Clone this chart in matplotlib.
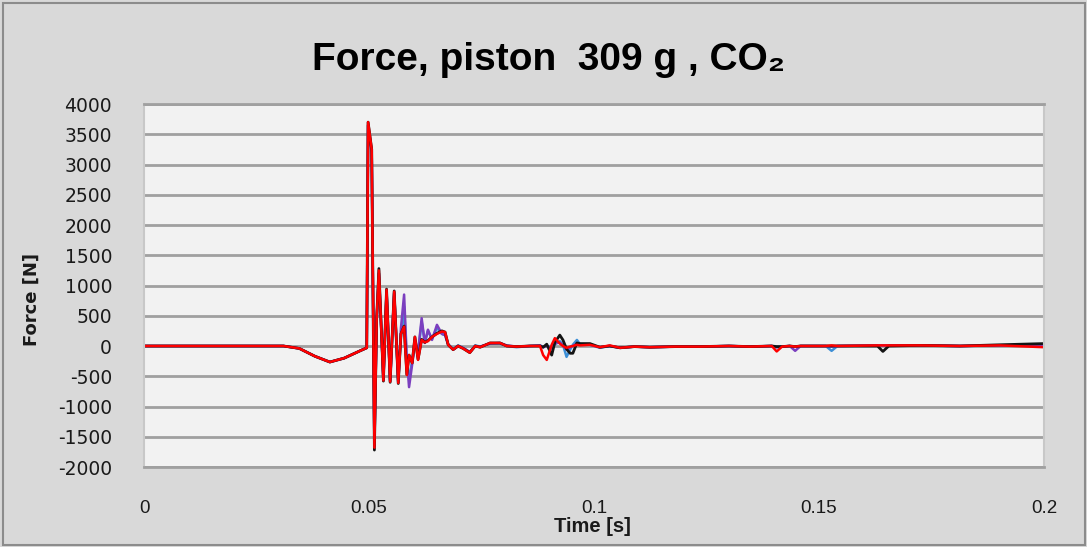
import matplotlib
matplotlib.use("Agg")
import matplotlib.pyplot as plt
from matplotlib.patches import Rectangle

plt.rcParams["axes.unicode_minus"] = False

# ---------------- data ----------------
time_s = [0.0, 0.031, 0.0345, 0.038, 0.0413, 0.0445, 0.048, 0.0495, 0.0498, 0.0506,
          0.0512, 0.0517, 0.0522, 0.0532, 0.0539, 0.0547, 0.0556, 0.0565, 0.0571, 0.0578,
          0.0584, 0.0589, 0.0596, 0.0602, 0.0609, 0.0617, 0.0624, 0.0631, 0.0640, 0.0651,
          0.0662, 0.0669, 0.0676, 0.0687, 0.0698, 0.0709, 0.0724, 0.0736, 0.0747, 0.0769,
          0.0791, 0.0806, 0.0828, 0.0858, 0.0880, 0.0887, 0.0895, 0.0906, 0.0913, 0.0924,
          0.0931, 0.0939, 0.0947, 0.0953, 0.0962, 0.0969,
          0.0991, 0.1013, 0.1035, 0.1058, 0.1090, 0.1124, 0.1180, 0.1236, 0.1300, 0.1347,
          0.1395, 0.1406, 0.1418, 0.1435, 0.1447, 0.1459, 0.1515, 0.1528, 0.1541, 0.1630,
          0.1642, 0.1655, 0.1724, 0.1813, 0.1902, 0.2000]

force_blue = [0, 0, -40, -170, -265, -200, -80, -30, 3650, 3200,
              -1650, 420, 1200, -560, 900, -580, 880, -600, 150, 650,
              -300, -520, -250, 80, -120, 400, 60, 250, 120, 300,
              200, 180, 30, -50, 10, -30, -100, 10, -10, 40,
              40, 0, -20, 0, 10, -20, 10, -50, 30, 80,
              20, -180, -60, 20, 100, 30,
              20, -30, 0, -30, -10, -20, -10, -10, 0, -10,
              0, -20, -10, 0, -10, 0, 0, -80, 0, 10,
              10, 10, 10, 0, 10, 20]

force_purple = [0, 0, -40, -170, -265, -200, -80, -30, 3650, 3200,
                -1650, 420, 1200, -560, 900, -580, 880, -600, 300, 850,
                -200, -680, -300, 50, -100, 460, 50, 270, 100, 350,
                200, 180, 20, -60, 0, -30, -100, 0, -10, 40,
                50, 10, -10, 0, 10, -20, 0, -30, 40, 60,
                10, -60, -20, 0, 40, 20,
                20, -20, 0, -30, -10, -20, -10, -10, 0, -10,
                0, -20, -10, 0, -80, 0, 0, -10, 0, 10,
                10, 10, 10, 0, 10, 20]

force_black = [0, 0, -40, -170, -265, -200, -80, -30, 3700, 3250,
               -1720, 450, 1280, -580, 940, -600, 910, -620, 200, 330,
               -470, -150, -280, 150, -220, 110, 60, 90, 150, 210,
               250, 230, 20, -60, 0, -40, -110, 0, -20, 50,
               50, 0, -10, 0, 0, -20, 30, -150, 60, 180,
               100, -50, -120, -120, 50, 40,
               40, -20, 0, -30, -10, -20, -10, -10, 0, -10,
               0, -10, -10, 0, -10, 0, 0, 0, 0, 0,
               -90, 0, 10, 0, 20, 40]

force_red = [0, 0, -40, -170, -265, -200, -80, -30, 3700, 3250,
             -1680, 450, 1250, -570, 930, -590, 900, -610, 200, 320,
             -480, -150, -280, 150, -230, 100, 60, 80, 150, 200,
             240, 230, 20, -60, 0, -40, -110, 0, -20, 50,
             50, 0, -10, 0, 0, -150, -230, 20, 130, 40,
             0, -30, -10, 0, 20, 10,
             20, -20, 10, -30, -10, -20, -10, -10, 0, -10,
             0, -90, -10, 0, -10, 0, 0, 10, 0, 10,
             10, 10, 10, 0, 10, -20]

y_ticks = [-2000, -1500, -1000, -500, 0, 500, 1000, 1500, 2000, 2500, 3000, 3500, 4000]
x_ticks = [0, 0.05, 0.1, 0.15, 0.2]
x_tick_labels = ["0", "0.05", "0.1", "0.15", "0.2"]

# ---------------- figure ----------------
W, H = 1087, 547
fig = plt.figure(figsize=(W / 100, H / 100), dpi=100)
fig.patch.set_facecolor("#d9d9d9")
fig.patches.append(Rectangle((3 / W, 2 / H), (W - 5) / W, (H - 5) / H,
                             transform=fig.transFigure, fill=False,
                             edgecolor="#8c8c8c", linewidth=1.5))

ax = fig.add_axes([144 / W, 1 - 467 / H, 900 / W, 363 / H])
ax.set_facecolor("#f2f2f2")

ax.set_xlim(0, 0.2)
ax.set_ylim(-2000, 4000)
ax.set_yticks(y_ticks)
ax.set_xticks(x_ticks)
ax.set_xticklabels(x_tick_labels)
ax.grid(axis="y", color="#a0a0a0", linewidth=2.0)
ax.set_axisbelow(True)
ax.tick_params(length=0)
ax.tick_params(axis="y", pad=23, labelsize=13.5, labelcolor="#1a1a1a")
ax.tick_params(axis="x", pad=24, labelsize=13.5, labelcolor="#1a1a1a")
for lab in ax.get_xticklabels():
    lab.set_family(["Liberation Sans", "DejaVu Sans"])
for lab in ax.get_yticklabels():
    lab.set_family(["DejaVu Sans"])
for side in ["left", "right"]:
    ax.spines[side].set_color("#c8c8c8")
    ax.spines[side].set_linewidth(1.5)
for side in ["top", "bottom"]:
    ax.spines[side].set_color("#a0a0a0")
    ax.spines[side].set_linewidth(2.0)

ax.plot(time_s, force_blue, color="#3d8fd6", linewidth=1.8)
ax.plot(time_s, force_purple, color="#7b3fbf", linewidth=1.8)
ax.plot(time_s, force_black, color="#141414", linewidth=2.0)
ax.plot(time_s, force_red, color="#ff0000", linewidth=1.8)

fig.text(549 / W, 1 - 60 / H, "Force, piston  309 g , CO\u2082", ha="center", va="center",
         fontsize=28, fontweight="bold", family=["Liberation Sans", "DejaVu Sans"],
         color="#000000")
fig.text(592 / W, 1 - 527 / H, "Time [s]", ha="center", va="center",
         fontsize=14.5, fontweight="bold", family=["Liberation Sans", "DejaVu Sans"],
         color="#1a1a1a")
fig.text(32 / W, 1 - 299 / H, "Force [N]", ha="center", va="center", rotation=90,
         fontsize=13, fontweight="bold", family=["DejaVu Sans"], color="#1a1a1a")

fig.savefig("out.png", dpi=100, facecolor=fig.get_facecolor())
